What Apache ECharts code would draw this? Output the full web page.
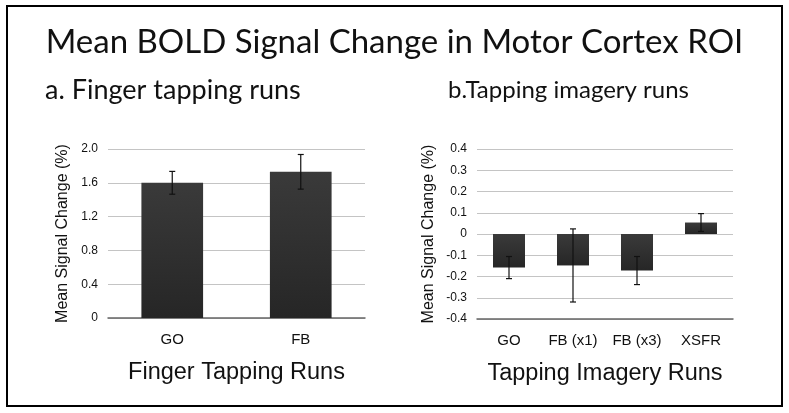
<!DOCTYPE html>
<html>
<head>
<meta charset="utf-8">
<script src="https://cdn.jsdelivr.net/npm/echarts@6/dist/echarts.min.js"></script>
<style>
  html, body { margin: 0; padding: 0; background: #fff; }
  #chart { width: 789px; height: 413px; }
</style>
</head>
<body>
<div id="chart"></div>
<script>
// a. finger tapping runs
var tapCats = ["GO", "FB"];
var tapMean = [1.60, 1.73];
var tapErr = [0.135, 0.205];
var tapTicks = ["0", "0.4", "0.8", "1.2", "1.6", "2.0"];

// b. tapping imagery runs
var imgCats = ["GO", "FB (x1)", "FB (x3)", "XSFR"];
var imgMean = [-0.158, -0.148, -0.172, 0.054];
var imgErr = [0.052, 0.172, 0.066, 0.042];

var chart = echarts.init(document.getElementById("chart"));

var barColor = new echarts.graphic.LinearGradient(0, 0, 0, 1, [
  { offset: 0, color: "#3a3a3a" },
  { offset: 1, color: "#262626" }
]);

// 误差线
function errorSeries(idx, mean, err) {
  return {
    type: "custom",
    xAxisIndex: idx,
    yAxisIndex: idx,
    z: 5,
    data: mean.map(function (m, i) { return [i, m - err[i], m + err[i]]; }),
    renderItem: function (params, api) {
      var lo = api.coord([api.value(0), api.value(1)]);
      var hi = api.coord([api.value(0), api.value(2)]);
      var w = 3;
      var st = { stroke: "#111", lineWidth: 1.2 };
      return {
        type: "group",
        children: [
          { type: "line", shape: { x1: hi[0], y1: hi[1], x2: lo[0], y2: lo[1] }, style: st },
          { type: "line", shape: { x1: hi[0] - w, y1: hi[1], x2: hi[0] + w, y2: hi[1] }, style: st },
          { type: "line", shape: { x1: lo[0] - w, y1: lo[1], x2: lo[0] + w, y2: lo[1] }, style: st }
        ]
      };
    }
  };
}

var axisFont = "'Liberation Sans', Arial, sans-serif";
var titleFont = "Lato, 'Open Sans', sans-serif";

var option = {
  animation: false,
  backgroundColor: "#fff",
  title: [
    { text: "Mean BOLD Signal Change in Motor Cortex ROI", left: "center", top: 21,
      textStyle: { fontFamily: titleFont, fontSize: 33, fontWeight: "normal", color: "#111" } },
    { text: "a. Finger tapping runs", left: 40, top: 72,
      textStyle: { fontFamily: titleFont, fontSize: 27, fontWeight: "normal", color: "#111" } },
    { text: "b.Tapping imagery runs", left: 443, top: 73,
      textStyle: { fontFamily: titleFont, fontSize: 24, fontWeight: "normal", color: "#111" } }
  ],
  graphic: [
    { type: "rect", shape: { x: 7, y: 6, width: 775, height: 400 },
      style: { fill: "none", stroke: "#000", lineWidth: 2 } }
  ],
  grid: [
    { left: 108, right: 424, top: 149, bottom: 95 },
    { left: 477, right: 56, top: 149, bottom: 94 }
  ],
  xAxis: [
    {
      type: "category", gridIndex: 0, data: tapCats,
      name: "Finger Tapping Runs", nameLocation: "middle", nameGap: 43,
      nameTextStyle: { fontFamily: axisFont, fontSize: 23.5, color: "#111" },
      axisTick: { show: false },
      axisLine: { lineStyle: { color: "#666", width: 1.5 } },
      axisLabel: { fontFamily: axisFont, fontSize: 15, color: "#111", margin: 14 }
    },
    {
      type: "category", gridIndex: 1, data: imgCats,
      name: "Tapping Imagery Runs", nameLocation: "middle", nameGap: 43,
      nameTextStyle: { fontFamily: axisFont, fontSize: 23.5, color: "#111" },
      axisTick: { show: false },
      axisLine: { onZero: false, lineStyle: { color: "#666", width: 1.5 } },
      axisLabel: { fontFamily: axisFont, fontSize: 15, color: "#111", margin: 14 }
    }
  ],
  yAxis: [
    {
      type: "value", gridIndex: 0, min: 0, max: 2.0, interval: 0.4,
      name: "Mean Signal Change (%)", nameLocation: "middle", nameGap: 37,
      nameTextStyle: { fontFamily: axisFont, fontSize: 16, color: "#111" },
      axisLine: { show: false }, axisTick: { show: false },
      splitLine: { lineStyle: { color: "#c4c4c4" } },
      axisLabel: {
        fontFamily: axisFont, fontSize: 12, color: "#111", margin: 10,
        formatter: function (v) { return tapTicks[Math.round(v / 0.4)]; }
      }
    },
    {
      type: "value", gridIndex: 1, min: -0.4, max: 0.4, interval: 0.1,
      name: "Mean Signal Change (%)", nameLocation: "middle", nameGap: 40,
      nameTextStyle: { fontFamily: axisFont, fontSize: 16, color: "#111" },
      axisLine: { show: false }, axisTick: { show: false },
      splitLine: { lineStyle: { color: "#c4c4c4" } },
      axisLabel: {
        fontFamily: axisFont, fontSize: 12, color: "#111", margin: 10,
        formatter: function (v) { return v === 0 ? "0" : v.toFixed(1); }
      }
    }
  ],
  series: [
    { type: "bar", xAxisIndex: 0, yAxisIndex: 0, data: tapMean, barWidth: "48%",
      itemStyle: { color: barColor } },
    errorSeries(0, tapMean, tapErr),
    { type: "bar", xAxisIndex: 1, yAxisIndex: 1, data: imgMean, barWidth: "50%",
      itemStyle: { color: barColor } },
    errorSeries(1, imgMean, imgErr)
  ]
};

chart.setOption(option);
</script>
</body>
</html>
